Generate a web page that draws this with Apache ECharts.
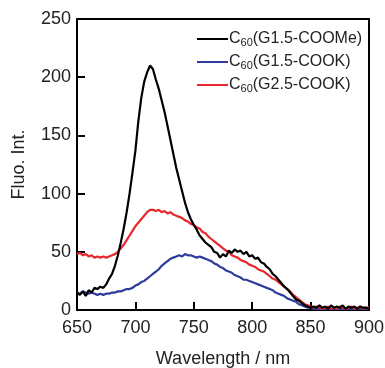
<!DOCTYPE html>
<html><head><meta charset="utf-8">
<script src="https://cdn.jsdelivr.net/npm/echarts@6/dist/echarts.min.js"></script>
<style>html,body{margin:0;padding:0;background:#fff}#c{width:385px;height:368px}</style>
</head><body><div id="c"></div>
<script>
const wavelengths = [650,652.5,655,657.5,660,662.5,665,667.5,670,672.5,675,677.5,680,682.5,685,687.5,690,692.5,695,697.5,700,702.5,705,707.5,710,712.5,715,717.5,720,722.5,725,727.5,730,732.5,735,737.5,740,742.5,745,747.5,750,752.5,755,757.5,760,762.5,765,767.5,770,772.5,775,777.5,780,782.5,785,787.5,790,792.5,795,797.5,800,802.5,805,807.5,810,812.5,815,817.5,820,822.5,825,827.5,830,832.5,835,837.5,840,842.5,845,847.5,850,852.5,855,857.5,860,862.5,865,867.5,870,872.5,875,877.5,880,882.5,885,887.5,890,892.5,895,897.5,900];
const blackG15COOMe = [15,13,16,12,17,15,19,18,20,19,22,27,31,38,47,58,70,84,100,118,137,162,182,196,204,210,207,198,190,180,170,158,146,134,122,112,102,92,84,78,73,69,64,61,58,56,54,50,49,45,48,46,51,49,52,50,51,48,50,46,47,44,45,41,40,37,35,31,29,26,23,20,18,15,12,9,8,6,4,3,2,3,2,4,2,3,1,4,2,3,2,4,1,3,2,3,1,3,2,2,1];
const blueG15COOK = [15,14,16,15,14,15,14,13,14,13,14,14,15,15,16,16,17,18,18,19,21,22,24,25,27,29,31,33,35,38,40,42,44,45,46,47,46,48,47,47,46,45,46,45,44,43,42,40,39,37,36,34,33,32,30,29,28,26,26,25,24,23,22,21,20,19,18,17,15,14,13,12,10,9,8,7,5,4,3,2,2,1,1,1,1,1,1,1,1,1,1,1,1,1,1,1,1,1,1,1,1];
const redG25COOK = [48,49,47,48,46,47,45,46,45,46,45,46,47,48,50,53,56,60,64,68,72,75,78,81,84,86,86,85,86,84,85,83,84,82,81,80,79,77,76,74,73,71,70,67,66,63,61,59,57,55,53,51,50,47,46,45,43,42,41,39,38,37,35,34,33,31,29,27,26,24,22,20,18,16,13,11,9,7,5,4,3,2,3,2,1,2,3,1,2,1,3,2,1,2,3,1,2,3,1,2,2];
const seriesNames = ['C60(G1.5-COOMe)','C60(G1.5-COOK)','C60(G2.5-COOK)'];
const xTicks = [650,700,750,800,850,900];
const yTicks = [0,50,100,150,200,250];

function pairs(vals){ return wavelengths.map((w,i)=>[w, vals[i]]); }
const colors = ['#000000','#2f3a9c','#e8282c'];
const font = 'Liberation Sans, Arial, Helvetica, sans-serif';
const chart = echarts.init(document.getElementById('c'), null, {renderer:'canvas'});
chart.setOption({
  animation:false,
  backgroundColor:'#fff',
  grid:{left:77,top:19,right:16,bottom:58,outerBoundsMode:'none',containLabel:false,show:true,borderColor:'#000',borderWidth:2,backgroundColor:'transparent'},
  legend:{
    orient:'vertical', left:197, top:31, padding:0, itemWidth:31, itemHeight:2, itemGap:6, icon:'rect',
    data:seriesNames,
    textStyle:{fontFamily:font,color:'#222',padding:[0,0,0,-4],
      rich:{
        a:{fontFamily:font,fontSize:16,color:'#222',lineHeight:18},
        b:{fontFamily:font,fontSize:11,color:'#222',lineHeight:10,verticalAlign:'bottom'}
      }},
    formatter:function(n){ return '{a|C}{b|60}{a|' + n.slice(3) + '}'; }
  },
  xAxis:{
    type:'value', min:xTicks[0], max:xTicks[xTicks.length-1], interval:50,
    name:'Wavelength / nm', nameLocation:'middle', nameGap:40,
    nameTextStyle:{fontFamily:font,fontSize:18,color:'#222'},
    axisLine:{show:true,lineStyle:{color:'#000',width:2}},
    axisTick:{show:true,inside:true,length:8,lineStyle:{color:'#000',width:2}},
    axisLabel:{fontFamily:font,fontSize:18,color:'#222',margin:9},
    splitLine:{show:false}
  },
  yAxis:{
    type:'value', min:yTicks[0], max:yTicks[yTicks.length-1], interval:50,
    name:'Fluo. Int.', nameLocation:'middle', nameGap:49,
    nameTextStyle:{fontFamily:font,fontSize:18,color:'#222'},
    axisLine:{show:true,lineStyle:{color:'#000',width:2}},
    axisTick:{show:true,inside:true,length:8,lineStyle:{color:'#000',width:2}},
    axisLabel:{fontFamily:font,fontSize:18,color:'#222',margin:6},
    splitLine:{show:false}
  },
  series:[
    {name:seriesNames[0],type:'line',data:pairs(blackG15COOMe),showSymbol:false,symbol:'none',color:colors[0],lineStyle:{width:2.2,color:colors[0]},z:3},
    {name:seriesNames[1],type:'line',data:pairs(blueG15COOK),showSymbol:false,symbol:'none',color:colors[1],lineStyle:{width:2.2,color:colors[1]},z:2},
    {name:seriesNames[2],type:'line',data:pairs(redG25COOK),showSymbol:false,symbol:'none',color:colors[2],lineStyle:{width:2.2,color:colors[2]},z:2}
  ]
});
</script></body></html>
